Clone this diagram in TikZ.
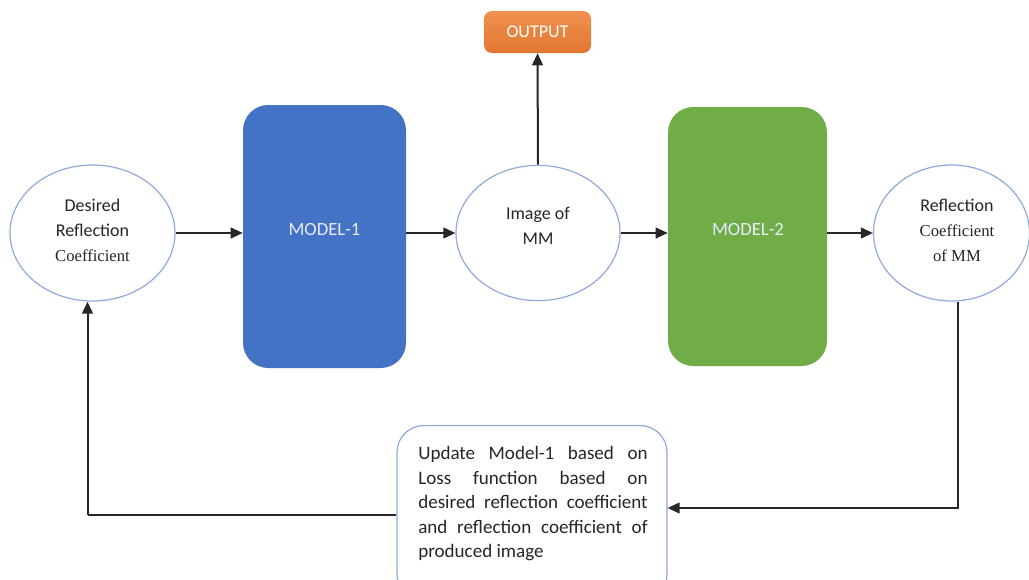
\documentclass[tikz,border=0pt]{standalone}
\usepackage{fontspec}
\setmainfont{Carlito}
\newfontfamily\serifpart{Liberation Serif}
\usetikzlibrary{shapes.geometric,arrows.meta}
\definecolor{ringblue}{HTML}{8FAADC}
\definecolor{modelblue}{HTML}{4472C4}
\definecolor{modelgreen}{HTML}{70AD47}
\definecolor{outorange}{HTML}{ED7D31}
\definecolor{inktext}{HTML}{262626}
\newcommand\cambriaish{\serifpart\fontsize{12.5}{18.5}\selectfont}
\begin{document}
\begin{tikzpicture}[x=0.75pt,y=-0.75pt,
  ring/.style={ellipse,draw=ringblue,line width=0.9pt,fill=white,inner sep=0pt},
  ringtext/.style={align=center,inner sep=0pt,font=\fontsize{13.5}{18.8}\selectfont,text=inktext},
  modelbox/.style={rectangle,rounded corners=19pt,inner sep=0pt,draw=none},
  modeltext/.style={font=\fontsize{14}{16}\selectfont,text=white!92!blue},
  flow/.style={line width=1.5pt,draw=black!85,-{Triangle[length=9pt,width=8pt]}},
  plain/.style={line width=1.5pt,draw=black!85}
]
\useasboundingbox (0,0) rectangle (1029,579);
\clip (0,0) rectangle (1029,579);

% the three signal stages
\node[ring,minimum width=123.75pt,minimum height=102pt] (e1) at (92.5,233) {};
\node[ringtext] (e1t) at (92.5,230)
  {Desired\\Reflection\\{\cambriaish Coefficient}};
\node[ring,minimum width=123pt,minimum height=101.5pt] (e2) at (538,233) {};
\node[ringtext] (e2t) at (538,225.5) {Image of\\MM};
\node[ring,minimum width=117pt,minimum height=102pt] (e3) at (951.5,233) {};
\node[ringtext] (e3t) at (957,230)
  {Reflection\\{\cambriaish Coefficient}\\{\cambriaish of MM}};

% the two models
\node[modelbox,fill=modelblue,minimum width=122.25pt,minimum height=197.25pt] (m1) at (324.5,236.5) {};
\node[modeltext] (m1t) at (324.5,230) {MODEL-1};
\node[modelbox,fill=modelgreen,minimum width=119.25pt,minimum height=194.25pt] (m2) at (747.5,236.5) {};
\node[modeltext] (m2t) at (748,230) {MODEL-2};

% output tag
\node[rectangle,rounded corners=6pt,top color=outorange!85!white,bottom color=outorange!95!black,
  minimum width=80.25pt,minimum height=31.5pt,inner sep=0pt,
  font=\fontsize{13.5}{15}\selectfont,text=white] (out) at (537.5,32) {OUTPUT};

% training update box
\node[rectangle,rounded corners=20pt,draw=ringblue,line width=0.9pt,fill=white,
  minimum width=202.5pt,minimum height=131pt,inner sep=0pt,anchor=north] (upd) at (532,425) {};
\node[anchor=north west,inner sep=0pt,text=inktext,align=justify,
  text width=172pt,font=\fontsize{14.3}{18.4}\selectfont] (updt) at (418,446)
  {\hyphenpenalty=10000\exhyphenpenalty=10000
   Update Model-1 based on\linebreak
   Loss function based on\linebreak
   desired reflection coefficient\linebreak
   and reflection coefficient of\linebreak
   produced image};

% forward connections
\draw[flow] (e1.east) -- (e1.east -| m1.west);
\draw[flow] (m1.east |- e2.west) -- (e2.west);
\draw[flow] (e2.east) -- (e2.east -| m2.west);
\draw[flow] (m2.east |- e3.west) -- (e3.west);
\draw[flow] (e2.north) -- (out.south);

% feedback loop
\coordinate (fbr) at (958,508);
\coordinate (fbl) at (87.5,515);
\draw[flow] (e3.south -| fbr) -- (fbr) -- (fbr -| upd.east);
\draw[plain] (fbl -| upd.west) -- (fbl);
\draw[flow] (fbl) -- (fbl |- e1.south);
\end{tikzpicture}
\end{document}
